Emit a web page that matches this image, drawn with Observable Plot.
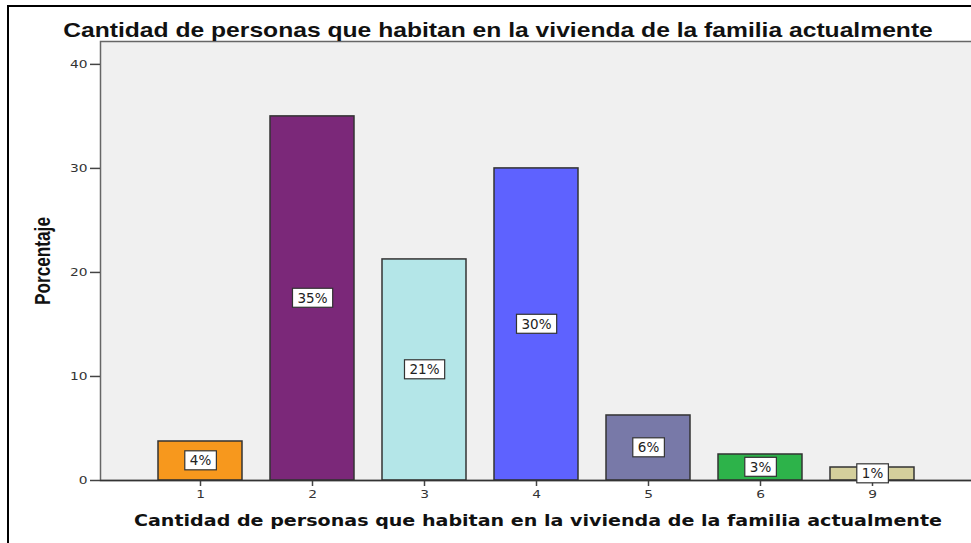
<!DOCTYPE html>
<html>
<head>
<meta charset="utf-8">
<script src="https://cdn.jsdelivr.net/npm/d3@7"></script>
<script src="https://cdn.jsdelivr.net/npm/@observablehq/plot@0.6"></script>
<style>
  html, body { margin: 0; padding: 0; background: #fff; }
  #wrap { position: relative; width: 971px; height: 543px; overflow: hidden; }
  #border { position: absolute; top: 5px; left: 7px; right: -4px; bottom: -4px;
            border-top: 2px solid #000; border-left: 2px solid #000; pointer-events: none; }
</style>
</head>
<body>
<div id="wrap"><div id="border"></div></div>
<script>
const categories = ["1", "2", "3", "4", "5", "6", "9"];
const percents = [3.75, 35, 21.25, 30, 6.25, 2.5, 1.25];
const labels = ["4%", "35%", "21%", "30%", "6%", "3%", "1%"];
const colors = ["#f7981d", "#7b2879", "#b4e6e8", "#5e62ff", "#7879a8", "#2db34a", "#d4cf9c"];
const yTicks = [0, 10, 20, 30, 40];
const title = "Cantidad de personas que habitan en la vivienda de la familia actualmente";
const xTitle = "Cantidad de personas que habitan en la vivienda de la familia actualmente";
const yTitle = "Porcentaje";

const data = categories.map((c, i) => ({cat: c, pct: percents[i], label: labels[i]}));

const chart = Plot.plot({
  width: 971,
  height: 543,
  marginLeft: 100,
  marginRight: 0,
  marginTop: 41,
  marginBottom: 63,
  style: {fontFamily: "DejaVu Sans", fontSize: "11px", color: "#333", background: "transparent"},
  x: {domain: categories, paddingInner: 0.25, paddingOuter: 0.5},
  y: {domain: [0, 42.2]},
  color: {domain: categories, range: colors},
  marks: [
    Plot.frame({fill: "#f0f0f0", stroke: "#666", strokeWidth: 1.5, insetRight: -4}),
    Plot.barY(data, {x: "cat", y: "pct", fill: "cat", stroke: "#333", strokeWidth: 1.5}),
    Plot.axisY({ticks: yTicks, tickSize: 10, tickPadding: 3, label: null, fontSize: 11, stroke: "#444", strokeWidth: 1.5}),
    Plot.axisX({tickSize: 6, tickPadding: 4, label: null, fontSize: 11, stroke: "#444", strokeWidth: 1.5}),
    Plot.ruleY([0], {stroke: "#333", strokeWidth: 1.5}),
    Plot.text(data, {x: "cat", y: d => d.pct / 2, text: "label", fontSize: 13.5, fill: "#222"}),
    Plot.text([title], {frameAnchor: "top", dx: -38, dy: -11, lineAnchor: "middle", fontSize: 19.5, fontWeight: "bold", fill: "#111",
      fontFamily: "'Liberation Sans', Arial, sans-serif", ariaDescription: "chart-title"}),
    Plot.text([xTitle], {frameAnchor: "bottom", dx: 2, dy: 40, lineAnchor: "middle", fontSize: 16.5, fontWeight: "bold", fill: "#111",
      ariaDescription: "x-title"}),
    Plot.text([yTitle], {frameAnchor: "left", dx: -57, dy: 0, rotate: -90, textAnchor: "middle", lineAnchor: "middle", fontSize: 17.2, fontWeight: "bold", fill: "#111",
      fontFamily: "'Liberation Sans', Arial, sans-serif"})
  ]
});

document.getElementById("wrap").insertBefore(chart, document.getElementById("border"));

const texts = Array.from(chart.querySelectorAll("text"));
function stretch(t, sx, sy) {
  const tr = t.getAttribute("transform") || "";
  t.setAttribute("transform", tr + ` scale(${sx},${sy})`);
}
function fitWidth(t, w) {
  const bb = t.getBBox();
  stretch(t, w / bb.width, 1);
}
// the reference picture is stretched horizontally; mimic that for text
texts.forEach(t => {
  const s = t.textContent;
  if (s === yTitle) stretch(t, 1, 1.25);
  else if (s === title) {
    const ff = (t.closest("g") && t.closest("g").getAttribute("font-family")) || "";
    fitWidth(t, ff.includes("Liberation") ? 870 : 809);
  }
});
// tick labels
chart.querySelectorAll('g[aria-label="y-axis tick label"] text, g[aria-label="x-axis tick label"] text')
  .forEach(t => stretch(t, 1.25, 1));

// white boxes behind the bar labels
texts.filter(t => labels.includes(t.textContent)).forEach(t => {
  const bb = t.getBBox();
  const r = document.createElementNS("http://www.w3.org/2000/svg", "rect");
  const h = 19, w = bb.width + 10;
  r.setAttribute("x", bb.x + bb.width / 2 - w / 2);
  r.setAttribute("y", bb.y + bb.height / 2 - h / 2);
  r.setAttribute("width", w);
  r.setAttribute("height", h);
  r.setAttribute("fill", "#fff");
  r.setAttribute("stroke", "#333");
  r.setAttribute("stroke-width", "1.2");
  const tr = t.getAttribute("transform");
  if (tr) r.setAttribute("transform", tr);
  t.parentNode.insertBefore(r, t);
});
</script>
</body>
</html>
